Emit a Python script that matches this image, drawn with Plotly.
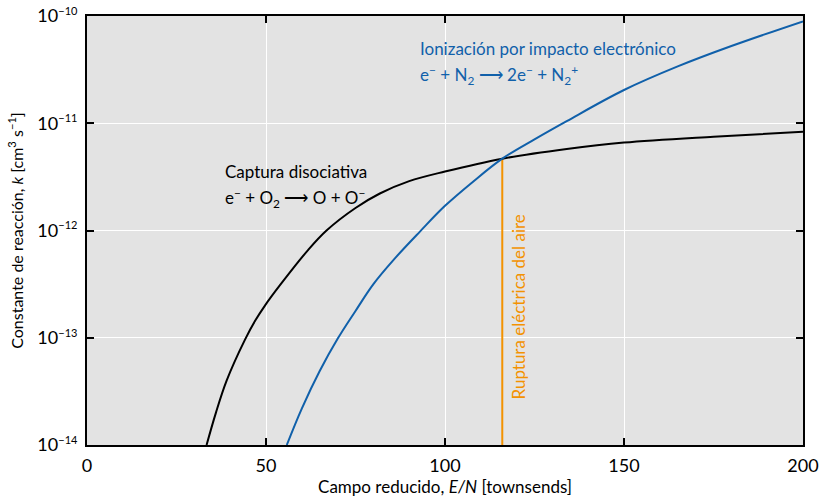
import numpy as np
import plotly.graph_objects as go

# Dissociative attachment: e- + O2 -> O + O-
att_E = [33.4, 36, 39, 44.1, 47, 49.7, 53.9, 61.8, 66.9, 75, 81.8, 90, 100, 116, 134, 150, 175, 200]
att_logk = [-14.0, -13.70, -13.40, -13.02, -12.84, -12.70, -12.51, -12.18, -12.0, -11.79, -11.655,
            -11.54, -11.45, -11.33, -11.24, -11.18, -11.125, -11.08]

# Electron impact ionization: e- + N2 -> 2e- + N2+
ion_E = [55.8, 60, 65, 70, 75, 80, 86, 93, 100, 108, 116, 125, 134, 150, 165, 180, 200]
ion_logk = [-14.0, -13.66, -13.31, -13.01, -12.75, -12.50, -12.26, -12.01, -11.77, -11.54,
            -11.33, -11.15, -10.98, -10.69, -10.47, -10.28, -10.05]

# Air breakdown field
breakdown_E = [116, 116]
breakdown_logk = [-14.0, -11.33]

x_ticks = [0, 50, 100, 150, 200]
y_tick_exponents = [-14, -13, -12, -11, -10]
y_tick_labels = ["10<sup><span style='font-size:11px'>−14</span></sup>",
                 "10<sup><span style='font-size:11px'>−13</span></sup>",
                 "10<sup><span style='font-size:11px'>−12</span></sup>",
                 "10<sup><span style='font-size:11px'>−11</span></sup>",
                 "10<sup><span style='font-size:11px'>−10</span></sup>"]

BLUE = "#1060aa"
ORANGE = "#f39200"
FONT = "Lato"

fig = go.Figure()
fig.add_trace(go.Scatter(x=breakdown_E, y=[10 ** v for v in breakdown_logk], mode="lines",
                         line=dict(color=ORANGE, width=2), showlegend=False))
fig.add_trace(go.Scatter(x=att_E, y=[10 ** v for v in att_logk], mode="lines",
                         line=dict(color="black", width=2, shape="spline", smoothing=1.0),
                         showlegend=False))
fig.add_trace(go.Scatter(x=ion_E, y=[10 ** v for v in ion_logk], mode="lines",
                         line=dict(color=BLUE, width=2, shape="spline", smoothing=1.0),
                         showlegend=False))

fig.update_layout(
    width=827, height=501,
    margin=dict(l=87, r=24, t=16, b=56),
    paper_bgcolor="white",
    plot_bgcolor="#e3e3e3",
    font=dict(family=FONT, size=16, color="black"),
    xaxis=dict(range=[0, 200], tickvals=x_ticks, showgrid=True, gridcolor="white", gridwidth=1.2,
               zeroline=False, showline=True, linecolor="black", linewidth=2, mirror="ticks",
               ticks="inside", ticklen=7, tickwidth=2, tickcolor="black", automargin=False,
               tickfont=dict(size=18, family=FONT), ticklabelstandoff=3, ticklabeloverflow="allow",
               title=dict(text="Campo reducido, <i>E/N</i> [townsends]",
                          font=dict(size=17, family=FONT), standoff=0)),
    yaxis=dict(type="log", range=[-14, -9.9999],
               tickvals=[10.0 ** e for e in y_tick_exponents], ticktext=y_tick_labels,
               showgrid=True, gridcolor="white", gridwidth=1.2,
               zeroline=False, showline=True, linecolor="black", linewidth=2, mirror="ticks",
               ticks="inside", ticklen=7, tickwidth=2, tickcolor="black", automargin=False,
               tickfont=dict(size=18, family=FONT), ticklabelstandoff=4, ticklabeloverflow="allow",
               title=dict(text="Constante de reacción, <i>k</i> [cm<sup>3</sup> s<sup>−1</sup>]",
                          font=dict(size=16, family=FONT), standoff=10)),
)

fig.add_annotation(x=92.5, y=-10.30, xref="x", yref="y", showarrow=False, xanchor="left", yanchor="middle",
                   align="left", font=dict(color=BLUE, size=17, family=FONT),
                   text="Ionización por impacto electrónico")
fig.add_annotation(x=92.5, y=-10.55, xref="x", yref="y", showarrow=False, xanchor="left", yanchor="middle",
                   align="left", font=dict(color=BLUE, size=17, family=FONT),
                   text="e<sup>−</sup> + N<sub>2</sub> ⟶ 2e<sup>−</sup> + N<sub>2</sub><sup>+</sup>")
fig.add_annotation(x=38.0, y=-11.45, xref="x", yref="y", showarrow=False, xanchor="left", yanchor="middle",
                   align="left", font=dict(color="black", size=17, family=FONT),
                   text="Captura disociativa")
fig.add_annotation(x=38.0, y=-11.70, xref="x", yref="y", showarrow=False, xanchor="left", yanchor="middle",
                   align="left", font=dict(color="black", size=17, family=FONT),
                   text="e<sup>−</sup> + O<sub>2</sub> ⟶ O + O<sup>−</sup>")
fig.add_annotation(x=120.6, y=-12.71, xref="x", yref="y", showarrow=False, textangle=-90,
                   xanchor="center", yanchor="middle",
                   font=dict(color=ORANGE, size=17, family=FONT),
                   text="Ruptura eléctrica del aire")

# remove the page's default body margin so the figure fills the 827x501 window exactly
fig.write_html("out.html", config={"displayModeBar": False},
               post_script="document.body.style.margin='0';")
